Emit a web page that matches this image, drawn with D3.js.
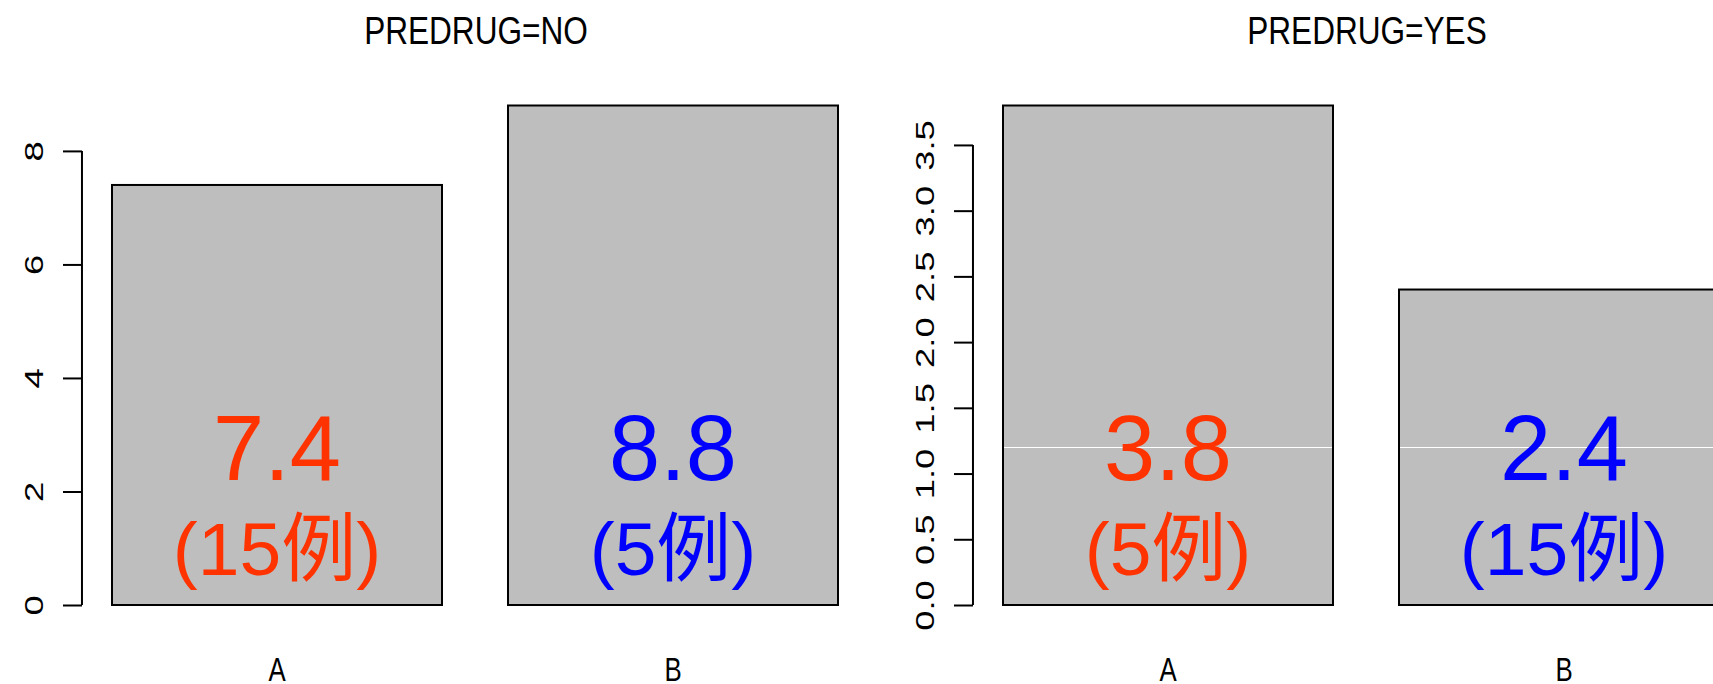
<!DOCTYPE html>
<html>
<head>
<meta charset="utf-8">
<script src="https://cdn.jsdelivr.net/npm/d3@7"></script>
<style>
  html, body { margin: 0; padding: 0; background: #ffffff; }
  svg { display: block; }
</style>
</head>
<body>
<script>
// ---- data ----
const panelTitles = ["PREDRUG=NO", "PREDRUG=YES"];
const categories = ["A", "B"];
const meansNo = [7.4, 8.8];
const meansYes = [3.8, 2.4];
const countsNo = [15, 5];
const countsYes = [5, 15];
const yTicksNo = [0, 2, 4, 6, 8];
const yTicksYes = [0, 0.5, 1, 1.5, 2, 2.5, 3, 3.5];
const yTickFormatNo = "d";
const yTickFormatYes = ".1f";
const refLineYes = 1.2;      // white horizontal reference line (PREDRUG=YES panel)
const labelColors = ["#FF3300", "#0000FF"];

// ---- layout ----
const W = 1713, H = 684;
const panelOffsets = [0, 891];
const barStarts = [0.2, 1.4];   // barplot units (width 1, space 0.2)
const barWidth = 1;
const axisPos = 0.109;          // position of y axis in bar units
const sansFont = "'Liberation Sans', Arial, 'Noto Sans CJK SC', sans-serif";

const svg = d3.select("body").append("svg")
  .attr("width", W).attr("height", H);

const panels = [
  { title: panelTitles[0], values: meansNo, counts: countsNo, ticks: yTicksNo, fmt: yTickFormatNo, ref: null },
  { title: panelTitles[1], values: meansYes, counts: countsYes, ticks: yTicksYes, fmt: yTickFormatYes, ref: refLineYes }
];

function narrowText(parent, cx, cy, size, sx, str) {
  parent.append("g")
    .attr("transform", `translate(${cx},${cy}) scale(${sx},1)`)
    .append("text")
    .attr("x", 0).attr("y", 0)
    .attr("text-anchor", "middle")
    .attr("font-family", sansFont)
    .style("font-size", size + "px")
    .attr("fill", "#000")
    .text(str);
}

panels.forEach((p, pi) => {
  const g = svg.append("g").attr("transform", `translate(${panelOffsets[pi]},0)`);
  const x = d3.scaleLinear().domain([0, 1]).range([46, 376]);
  const maxV = d3.max(p.values);
  const y = d3.scaleLinear().domain([0, maxV]).range([605, 105.5]);

  const data = categories.map((c, i) => ({ c, v: p.values[i], n: p.counts[i], x0: barStarts[i], col: labelColors[i] }));

  // bar fills
  g.selectAll("rect.fill").data(data).join("rect")
    .attr("class", "fill")
    .attr("x", d => x(d.x0)).attr("y", d => y(d.v))
    .attr("width", d => x(d.x0 + barWidth) - x(d.x0))
    .attr("height", d => y(0) - y(d.v))
    .attr("fill", "#BEBEBE");

  // white reference line
  if (p.ref !== null) {
    g.append("line")
      .attr("x1", x(barStarts[0])).attr("x2", W)
      .attr("y1", Math.round(y(p.ref)) + 0.5).attr("y2", Math.round(y(p.ref)) + 0.5)
      .attr("stroke", "#ffffff").attr("stroke-width", 1);
  }

  // bar outlines
  g.selectAll("rect.edge").data(data).join("rect")
    .attr("class", "edge")
    .attr("x", d => x(d.x0)).attr("y", d => y(d.v))
    .attr("width", d => x(d.x0 + barWidth) - x(d.x0))
    .attr("height", d => y(0) - y(d.v))
    .attr("fill", "none").attr("stroke", "#000").attr("stroke-width", 2);

  // y axis
  const ax = g.append("g").attr("transform", `translate(${x(axisPos)},0)`)
    .call(d3.axisLeft(y).tickValues(p.ticks).tickFormat(d3.format(p.fmt)).tickSizeInner(19).tickSizeOuter(0).tickPadding(0));
  ax.attr("font-size", null).attr("font-family", null);
  ax.select(".domain").attr("stroke", "#000").attr("stroke-width", 2)
    .attr("d", `M0,${y(p.ticks[0])}V${y(p.ticks[p.ticks.length - 1])}`);
  ax.selectAll(".tick line").attr("stroke", "#000").attr("stroke-width", 2);
  ax.selectAll(".tick text")
    .attr("x", 0).attr("y", 0).attr("dy", null)
    .attr("transform", "translate(-48,0) rotate(-90) scale(1.4,1)")
    .attr("text-anchor", "middle").attr("dominant-baseline", "central")
    .attr("font-family", sansFont)
    .style("font-size", "26px")
    .attr("fill", "#000");

  // title
  const plotLeft = x(axisPos);
  narrowText(g, plotLeft + 394, 44, 39, 0.81, p.title);

  // category labels
  data.forEach(d => narrowText(g, x(d.x0 + barWidth / 2), 681, 34, 0.76, d.c));

  // value labels
  g.selectAll("text.val").data(data).join("text")
    .attr("class", "val")
    .attr("x", d => x(d.x0 + barWidth / 2)).attr("y", y(maxV * 0.25))
    .attr("text-anchor", "middle")
    .attr("font-family", sansFont).style("font-size", "92px").attr("fill", d => d.col)
    .text(d => d3.format(".1f")(d.v));

  // count labels
  g.selectAll("text.cnt").data(data).join("text")
    .attr("class", "cnt")
    .attr("x", d => x(d.x0 + barWidth / 2)).attr("y", y(maxV * 0.06))
    .attr("text-anchor", "middle")
    .attr("font-family", sansFont).style("font-size", "75px").attr("fill", d => d.col)
    .text(d => `(${d.n}例)`);
});
</script>
</body>
</html>
